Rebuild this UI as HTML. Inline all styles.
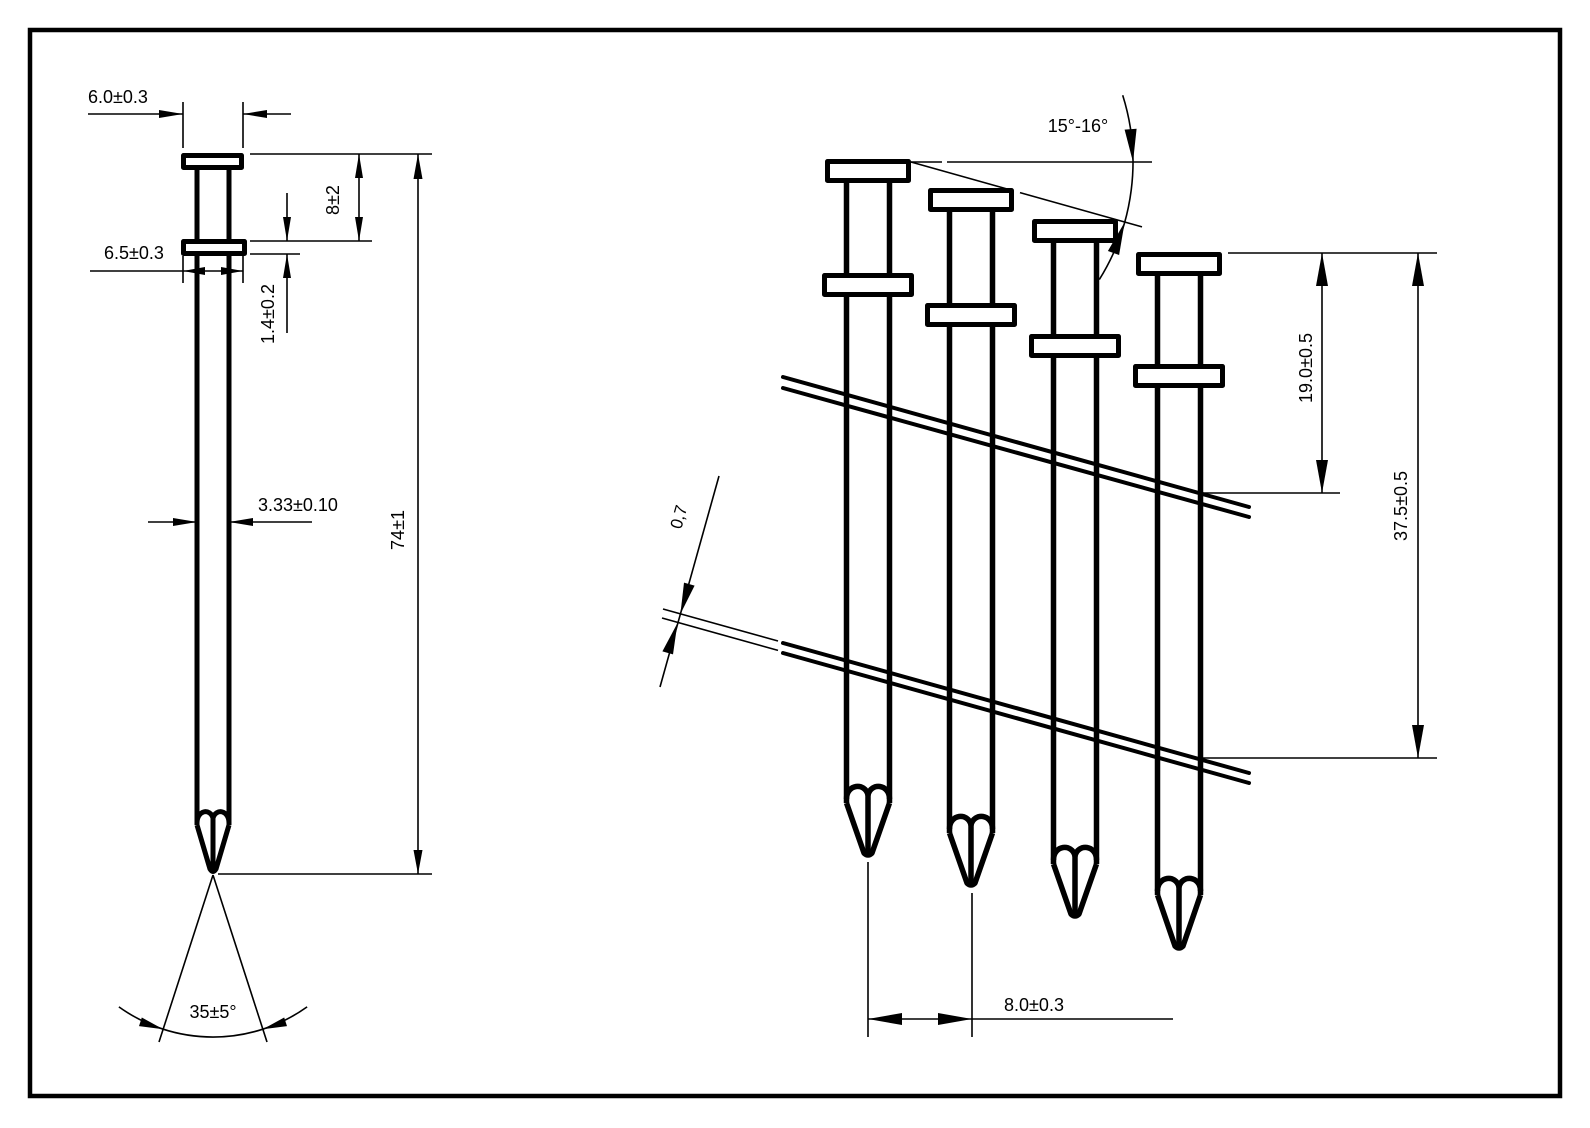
<!DOCTYPE html>
<html><head><meta charset="utf-8"><style>
html,body{margin:0;padding:0;background:#fff;}
svg{display:block;}
text{font-family:"Liberation Sans",Arial,sans-serif;font-size:18px;fill:#000;}
</style></head><body>
<svg width="1590" height="1128" viewBox="0 0 1590 1128" xmlns="http://www.w3.org/2000/svg">
<rect x="0" y="0" width="1590" height="1128" fill="#fff"/>
<rect x="30" y="30" width="1530" height="1066" fill="none" stroke="#000" stroke-width="4.5"/>

<!-- ================= LEFT NAIL ================= -->
<g stroke="#000" fill="none" stroke-width="5" stroke-linejoin="round">
  <line x1="197" y1="168" x2="197" y2="825"/>
  <line x1="229" y1="168" x2="229" y2="825"/>
  <path d="M197 825 L210 869 Q213 874 216 869 L229 825"/>
  <path d="M197 823 C197 810 210 808 213 818 C216 808 229 810 229 823"/>
  <line x1="213" y1="818" x2="213" y2="869"/>
  <rect x="183.5" y="155.5" width="58" height="12" fill="#fff"/>
  <rect x="183.5" y="241.5" width="61" height="12" fill="#fff"/>
</g>

<!-- left dims -->
<g stroke="#000" stroke-width="1.6" fill="none">
  <line x1="88" y1="114" x2="183" y2="114"/>
  <line x1="243" y1="114" x2="291" y2="114"/>
  <line x1="183" y1="102" x2="183" y2="148"/>
  <line x1="243" y1="102" x2="243" y2="148"/>
  <line x1="359" y1="154" x2="359" y2="241"/>
  <line x1="250" y1="154" x2="432" y2="154"/>
  <line x1="250" y1="241" x2="372" y2="241"/>
  <line x1="287" y1="193" x2="287" y2="241"/>
  <line x1="287" y1="254" x2="287" y2="333"/>
  <line x1="250" y1="254" x2="300" y2="254"/>
  <line x1="90" y1="271" x2="243" y2="271"/>
  <line x1="183" y1="256" x2="183" y2="283"/>
  <line x1="243" y1="256" x2="243" y2="283"/>
  <line x1="148" y1="522" x2="197" y2="522"/>
  <line x1="229" y1="522" x2="312" y2="522"/>
  <line x1="418" y1="154" x2="418" y2="874"/>
  <line x1="218" y1="874" x2="432" y2="874"/>
  <line x1="213" y1="875" x2="159" y2="1042"/>
  <line x1="213" y1="875" x2="267" y2="1042"/>
  <path d="M118.9 1006.9 A162 162 0 0 0 307.1 1006.9"/>
</g>
<g fill="#000" stroke="none">
  <polygon points="183,114 159,110 159,118"/>
  <polygon points="243,114 267,110 267,118"/>
  <polygon points="359,154 355,178 363,178"/>
  <polygon points="359,241 355,217 363,217"/>
  <polygon points="287,241 283,217 291,217"/>
  <polygon points="287,254 283,278 291,278"/>
  <polygon points="183,271 205,267 205,275"/>
  <polygon points="243,271 221,267 221,275"/>
  <polygon points="197,522 173,518 173,526"/>
  <polygon points="229,522 253,518 253,526"/>
  <polygon points="418,154 413.5,179 422.5,179"/>
  <polygon points="418,874 413.5,850 422.5,850"/>
  <polygon points="163.2,1029.2 139.0,1026.1 141.8,1017.5"/>
  <polygon points="262.8,1029.2 287.0,1026.1 284.2,1017.5"/>
</g>
<text x="88" y="103">6.0±0.3</text>
<text x="104" y="259">6.5±0.3</text>
<text x="258" y="511">3.33±0.10</text>
<text x="213" y="1018" text-anchor="middle">35±5°</text>
<text transform="translate(333,200) rotate(-90)" text-anchor="middle" dominant-baseline="central">8±2</text>
<text transform="translate(268,314) rotate(-90)" text-anchor="middle" dominant-baseline="central">1.4±0.2</text>
<text transform="translate(398,530) rotate(-90)" text-anchor="middle" dominant-baseline="central">74±1</text>

<!-- ================= RIGHT NAILS ================= -->
<!-- wires -->
<g stroke="#000" stroke-linecap="round" fill="none">
  <line x1="783" y1="377" x2="1249" y2="507" stroke-width="4"/>
  <line x1="783" y1="388" x2="1249" y2="517" stroke-width="4"/>
  <line x1="783" y1="643" x2="1249" y2="773" stroke-width="4"/>
  <line x1="783" y1="653" x2="1249" y2="783" stroke-width="4"/>
  <line x1="663" y1="609" x2="778" y2="641" stroke-width="1.6" stroke-linecap="butt"/>
  <line x1="662" y1="618" x2="778" y2="650.4" stroke-width="1.6" stroke-linecap="butt"/>
</g>

<!-- nail 1 -->
<g stroke="#000" fill="none" stroke-width="5.5" stroke-linejoin="round">
  <line x1="846.5" y1="182" x2="846.5" y2="803"/>
  <line x1="889.5" y1="182" x2="889.5" y2="803"/>
  <path d="M846.5 803 L864 853 Q868 857 872 853 L889.5 803"/>
  <path d="M846.5 799 C846.5 784 865 782 868 795 C871 782 889.5 784 889.5 799"/>
  <line x1="868" y1="795" x2="868" y2="854"/>
  <rect x="827.5" y="161.5" width="81" height="19" fill="#fff" stroke-width="5"/>
  <rect x="824.5" y="275.5" width="87" height="19" fill="#fff" stroke-width="5"/>
</g>
<!-- nail 2 -->
<g stroke="#000" fill="none" stroke-width="5.5" stroke-linejoin="round">
  <line x1="949.5" y1="211" x2="949.5" y2="833"/>
  <line x1="992.5" y1="211" x2="992.5" y2="833"/>
  <path d="M949.5 833 L967 883 Q971 887 975 883 L992.5 833"/>
  <path d="M949.5 829 C949.5 814 968 812 971 825 C974 812 992.5 814 992.5 829"/>
  <line x1="971" y1="825" x2="971" y2="884"/>
  <rect x="930.5" y="190.5" width="81" height="19" fill="#fff" stroke-width="5"/>
  <rect x="927.5" y="305.5" width="87" height="19" fill="#fff" stroke-width="5"/>
</g>
<!-- nail 3 -->
<g stroke="#000" fill="none" stroke-width="5.5" stroke-linejoin="round">
  <line x1="1053.5" y1="242" x2="1053.5" y2="864"/>
  <line x1="1096.5" y1="242" x2="1096.5" y2="864"/>
  <path d="M1053.5 864 L1071 914 Q1075 918 1079 914 L1096.5 864"/>
  <path d="M1053.5 860 C1053.5 845 1072 843 1075 856 C1078 843 1096.5 845 1096.5 860"/>
  <line x1="1075" y1="856" x2="1075" y2="915"/>
  <rect x="1034.5" y="221.5" width="81" height="19" fill="#fff" stroke-width="5"/>
  <rect x="1031.5" y="336.5" width="87" height="19" fill="#fff" stroke-width="5"/>
</g>
<!-- nail 4 -->
<g stroke="#000" fill="none" stroke-width="5.5" stroke-linejoin="round">
  <line x1="1157.5" y1="275" x2="1157.5" y2="895"/>
  <line x1="1200.5" y1="275" x2="1200.5" y2="895"/>
  <path d="M1157.5 895 L1175 946 Q1179 950 1183 946 L1200.5 895"/>
  <path d="M1157.5 891 C1157.5 876 1176 874 1179 887 C1182 874 1200.5 876 1200.5 891"/>
  <line x1="1179" y1="887" x2="1179" y2="947"/>
  <rect x="1138.5" y="254.5" width="81" height="19" fill="#fff" stroke-width="5"/>
  <rect x="1135.5" y="366.5" width="87" height="19" fill="#fff" stroke-width="5"/>
</g>

<!-- right dims -->
<g stroke="#000" stroke-width="1.6" fill="none">
  <line x1="911" y1="162" x2="942" y2="162"/>
  <line x1="947" y1="162" x2="1152" y2="162"/>
  <line x1="911" y1="162" x2="1012" y2="190.4"/>
  <line x1="1020" y1="192.6" x2="1142" y2="226.9"/>
  <path d="M1122.7 95.2 A222 222 0 0 1 1099.3 279.6"/>
  <line x1="719" y1="476" x2="660" y2="687"/>
  <line x1="1228" y1="253" x2="1437" y2="253"/>
  <line x1="1322" y1="253" x2="1322" y2="493"/>
  <line x1="1201" y1="493" x2="1340" y2="493"/>
  <line x1="1418" y1="253" x2="1418" y2="758"/>
  <line x1="1201" y1="758" x2="1437" y2="758"/>
  <line x1="868" y1="862" x2="868" y2="1037"/>
  <line x1="972" y1="893" x2="972" y2="1037"/>
  <line x1="868" y1="1019" x2="1173" y2="1019"/>
</g>
<g fill="#000" stroke="none">
  <polygon points="1133,162 1136.6,128.8 1124.6,129.6"/>
  <polygon points="1124.7,222.1 1119.1,255.0 1107.9,251.0"/>
  <polygon points="680.4,614 694.6,585.6 684.0,582.6"/>
  <polygon points="677.5,623 673.0,654.4 662.4,651.4"/>
  <polygon points="1322,253 1316,286 1328,286"/>
  <polygon points="1322,493 1316,460 1328,460"/>
  <polygon points="1418,253 1412,286 1424,286"/>
  <polygon points="1418,758 1412,725 1424,725"/>
  <polygon points="868,1019 902,1013 902,1025"/>
  <polygon points="972,1019 938,1013 938,1025"/>
</g>
<text x="1078" y="132" text-anchor="middle">15°-16°</text>
<text x="1034" y="1011" text-anchor="middle">8.0±0.3</text>
<text transform="translate(1306,368) rotate(-90)" text-anchor="middle" dominant-baseline="central">19.0±0.5</text>
<text transform="translate(1401,506) rotate(-90)" text-anchor="middle" dominant-baseline="central">37.5±0.5</text>
<text transform="translate(679,517) rotate(-74.4)" text-anchor="middle" dominant-baseline="central" style="font-size:17px">0,7</text>
</svg>
</body></html>
